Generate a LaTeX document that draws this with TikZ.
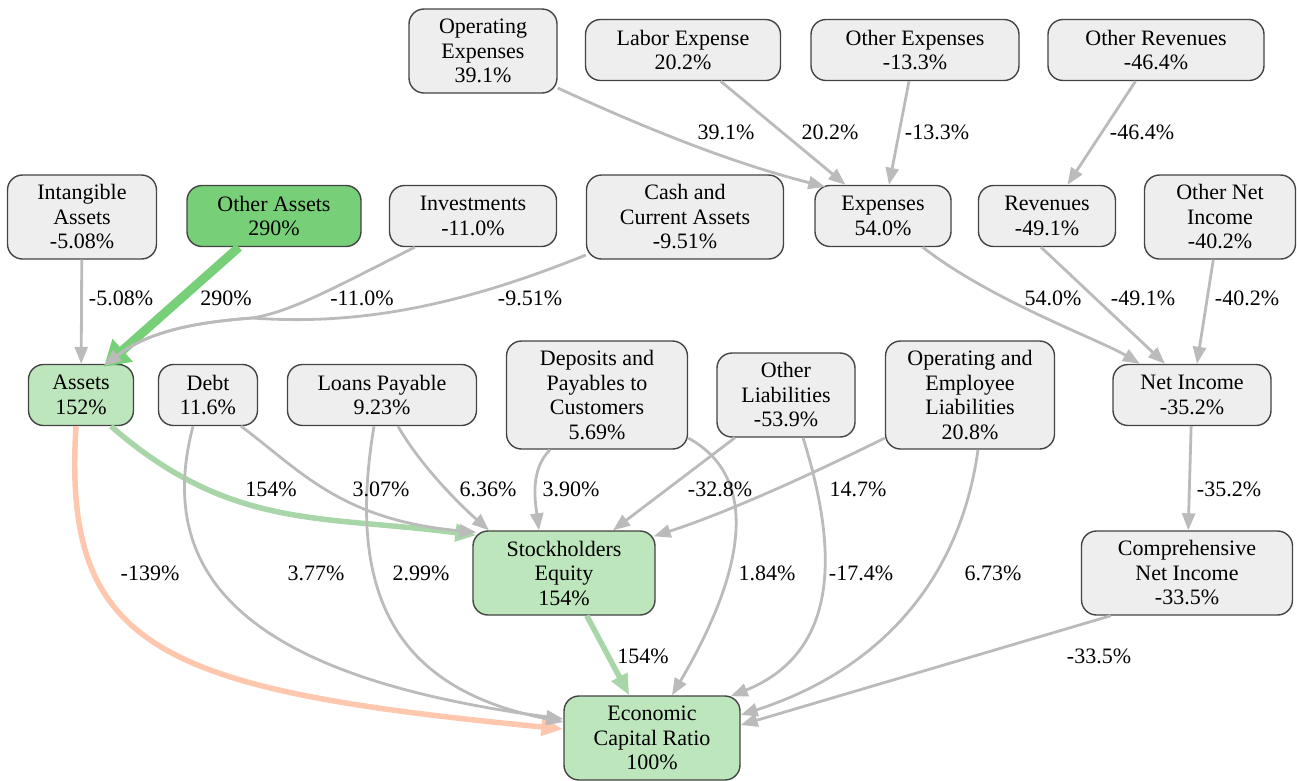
\documentclass[tikz,border=0pt]{standalone}
\usepackage{fontspec}
\setmainfont{Liberation Serif}
\usetikzlibrary{arrows.meta, calc}
\usepackage{xcolor}
\definecolor{boxgrey}{HTML}{EEEEEE}
\definecolor{boxline}{HTML}{444444}
\definecolor{edgegrey}{HTML}{BBBBBB}
\definecolor{hotgreen}{HTML}{77D077}
\definecolor{softgreen}{HTML}{BDE6BD}
\definecolor{linkgreen}{HTML}{A8D6A8}
\definecolor{lossorange}{HTML}{FFC8AE}
\tikzset{
  acctbox/.style={rectangle, draw=boxline, fill=boxgrey, line width=1.4pt,
                  rounded corners=15pt, minimum height=61pt, inner xsep=6pt, inner ysep=4pt,
                  align=center, font=\fontsize{22}{24.5}\selectfont},
  hotbox/.style={acctbox, fill=hotgreen},
  okbox/.style={acctbox, fill=softgreen},
  link/.style={-{Triangle[length=17pt,width=13pt]}, line width=2.8pt, draw=edgegrey},
  greenlink/.style={-{Triangle[length=21pt,width=17pt]}, line width=5.5pt, draw=linkgreen},
  biglink/.style={-{Triangle[length=25pt,width=29pt]}, line width=9pt, draw=hotgreen},
  losslink/.style={-{Triangle[length=22pt,width=17pt]}, line width=5.5pt, draw=lossorange},
  linklabel/.style={font=\fontsize{22}{24.5}\selectfont, inner sep=0pt},
}

\begin{document}
\begin{tikzpicture}[x=1pt, y=-1pt]
  \useasboundingbox (0,0) rectangle (1297,780);

  % Top row: expense and revenue sources
  \node[acctbox, minimum width=148pt, minimum height=84pt] (opex)   at (483,51)  {Operating\\Expenses\\39.1\%};
  \node[acctbox, minimum width=195pt]                      (labor)  at (683,50)  {Labor Expense\\20.2\%};
  \node[acctbox, minimum width=208pt]                      (othexp) at (915,50)  {Other Expenses\\-13.3\%};
  \node[acctbox, minimum width=216pt]                      (othrev) at (1156,50) {Other Revenues\\-46.4\%};

  % Second row
  \node[acctbox, minimum width=149pt, minimum height=84pt] (intang)    at (82,217)   {Intangible\\Assets\\-5.08\%};
  \node[hotbox,  minimum width=174pt]                      (othassets) at (274,216)  {Other Assets\\290\%};
  \node[acctbox, minimum width=167pt]                      (invest)    at (473,216)  {Investments\\-11.0\%};
  \node[acctbox, minimum width=197pt, minimum height=84pt] (cash)      at (685,217)  {Cash and\\Current Assets\\-9.51\%};
  \node[acctbox, minimum width=136pt]                      (expenses)  at (883,216)  {Expenses\\54.0\%};
  \node[acctbox, minimum width=137pt]                      (revenues)  at (1047,216) {Revenues\\-49.1\%};
  \node[acctbox, minimum width=151pt, minimum height=84pt] (othni)     at (1220,217) {Other Net\\Income\\-40.2\%};

  % Third row: balance sheet items
  \node[okbox,   minimum width=105pt]                       (assets)   at (81,395)   {Assets\\152\%};
  \node[acctbox, minimum width=99pt]                        (debt)     at (208,395)  {Debt\\11.6\%};
  \node[acctbox, minimum width=189pt]                       (loans)    at (382,395)  {Loans Payable\\9.23\%};
  \node[acctbox, minimum width=181pt, minimum height=108pt] (deposits) at (597,395)  {Deposits and\\Payables to\\Customers\\5.69\%};
  \node[acctbox, minimum width=138pt, minimum height=84pt]  (othliab)  at (786,395)  {Other\\Liabilities\\-53.9\%};
  \node[acctbox, minimum width=169pt, minimum height=108pt] (opliab)   at (970,395)  {Operating and\\Employee\\Liabilities\\20.8\%};
  \node[acctbox, minimum width=158pt]                       (netinc)   at (1192,395) {Net Income\\-35.2\%};

  % Lower rows
  \node[okbox,   minimum width=182pt, minimum height=84pt] (equity)  at (564,573)  {Stockholders\\Equity\\154\%};
  \node[acctbox, minimum width=211pt, minimum height=84pt] (compinc) at (1187,573) {Comprehensive\\Net Income\\-33.5\%};
  \node[okbox,   minimum width=176pt, minimum height=84pt] (ecr)     at (652,738)  {Economic\\Capital Ratio\\100\%};

  % Links into expenses, revenues, net income
  \draw[link] ([yshift=-37pt]opex.east) .. controls (660,135) and (740,165) .. ([xshift=11pt,yshift=-2pt]expenses.north west);
  \draw[link] (labor) -- (expenses);
  \draw[link] (othexp) -- (expenses);
  \draw[link] (othrev) -- (revenues);
  \draw[link] (expenses) .. controls (990,300) and (1100,340) .. (netinc);
  \draw[link] ([xshift=-6pt]revenues.south) -- ([xshift=-27pt]netinc.north);
  \draw[link] (othni) -- (netinc);
  \draw[link] (netinc) -- (compinc);

  % Links into assets
  \draw[link] (intang) -- (assets);
  \draw[biglink] (othassets) -- ([xshift=23pt,yshift=-3pt]assets.north);
  \draw[link] ([xshift=26pt]invest.south west) .. controls (330,290) and (290,312) .. (252,318)
              .. controls (200,322) and (150,330) .. ([xshift=23pt,yshift=-2pt]assets.north);
  \draw[link] ([yshift=-38pt]cash.west) .. controls (450,310) and (350,325) .. (252,318)
              .. controls (200,322) and (150,330) .. ([xshift=23pt,yshift=-2pt]assets.north);

  % Links into stockholders equity
  \draw[greenlink] ([xshift=30pt]assets.south) .. controls (230,530) and (320,515) .. ([xshift=4pt,yshift=-5pt]equity.north west);
  \draw[link] ([xshift=33pt]debt.south) .. controls (300,470) and (340,520) .. ([xshift=4pt,yshift=-2pt]equity.north west);
  \draw[link] ([xshift=16pt]loans.south) .. controls (420,465) and (460,505) .. ([xshift=-75pt]equity.north);
  \draw[link] ([xshift=-47pt]deposits.south) .. controls (530,470) and (535,500) .. ([xshift=-25pt]equity.north);
  \draw[link] ([xshift=-51pt]othliab.south) -- ([xshift=49pt]equity.north);
  \draw[link] ([yshift=-43pt]opliab.west) .. controls (800,480) and (720,515) .. ([xshift=-2pt,yshift=-6pt]equity.north east);

  % Links into economic capital ratio
  \draw[losslink] ([xshift=-5pt]assets.south) .. controls (62,650) and (160,690) .. ([yshift=9pt]ecr.west);
  \draw[link] ([xshift=-15pt]debt.south) .. controls (150,590) and (270,680) .. ([yshift=19pt]ecr.west);
  \draw[link] ([xshift=-8pt]loans.south) .. controls (345,600) and (400,690) .. ([yshift=16pt]ecr.west);
  \draw[link] ([yshift=-43pt]deposits.east) .. controls (765,480) and (740,580) .. ([xshift=20pt]ecr.north);
  \draw[link] ([xshift=17pt]othliab.south) .. controls (835,540) and (845,650) .. ([xshift=-10pt,yshift=-1pt]ecr.north east);
  \draw[link] ([xshift=8pt]opliab.south) .. controls (960,580) and (880,670) .. ([yshift=23pt]ecr.east);
  \draw[greenlink] (equity) -- (ecr);
  \draw[link] ([xshift=30pt]compinc.south west) -- ([yshift=13pt]ecr.east);

  % Link labels
  \node[linklabel] (l-opex)     at (726,132)  {39.1\%};
  \node[linklabel] (l-labor)    at (830,132)  {20.2\%};
  \node[linklabel] (l-othexp)   at (937,132)  {-13.3\%};
  \node[linklabel] (l-othrev)   at (1142,132) {-46.4\%};
  \node[linklabel] (l-intang)   at (121,298)  {-5.08\%};
  \node[linklabel] (l-othass)   at (226,298)  {290\%};
  \node[linklabel] (l-invest)   at (362,298)  {-11.0\%};
  \node[linklabel] (l-cash)     at (530,298)  {-9.51\%};
  \node[linklabel] (l-exp)      at (1053,298) {54.0\%};
  \node[linklabel] (l-rev)      at (1143,298) {-49.1\%};
  \node[linklabel] (l-othni)    at (1247,298) {-40.2\%};
  \node[linklabel] (l-assets)   at (271,489)  {154\%};
  \node[linklabel] (l-debt)     at (381,489)  {3.07\%};
  \node[linklabel] (l-loans)    at (488,489)  {6.36\%};
  \node[linklabel] (l-deposits) at (571,489)  {3.90\%};
  \node[linklabel] (l-othliab)  at (720,489)  {-32.8\%};
  \node[linklabel] (l-opliab)   at (858,489)  {14.7\%};
  \node[linklabel] (l-netinc)   at (1229,489) {-35.2\%};
  \node[linklabel] (l-assecr)   at (150,573)  {-139\%};
  \node[linklabel] (l-debtecr)  at (316,573)  {3.77\%};
  \node[linklabel] (l-loanecr)  at (421,573)  {2.99\%};
  \node[linklabel] (l-depecr)   at (767,573)  {1.84\%};
  \node[linklabel] (l-olecr)    at (861,573)  {-17.4\%};
  \node[linklabel] (l-opecr)    at (993,573)  {6.73\%};
  \node[linklabel] (l-equity)   at (643,656)  {154\%};
  \node[linklabel] (l-compinc)  at (1099,656) {-33.5\%};

\end{tikzpicture}
\end{document}
